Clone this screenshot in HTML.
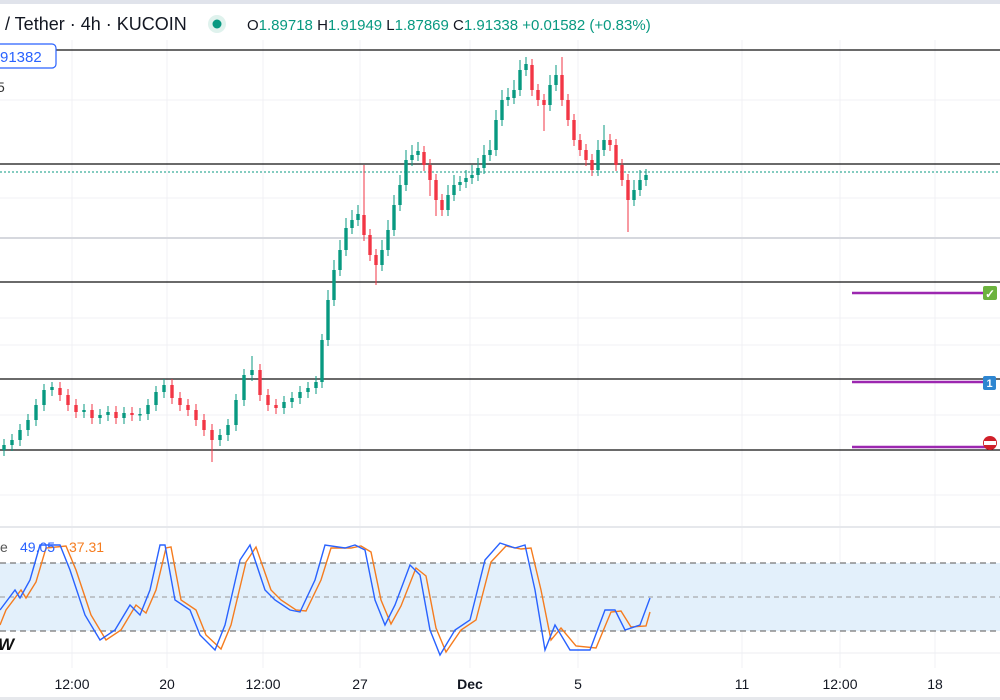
<!DOCTYPE html>
<html><head><meta charset="utf-8"><style>
html,body{margin:0;padding:0;background:#fff;width:1000px;height:700px;overflow:hidden;font-family:"Liberation Sans",sans-serif}
svg{position:absolute;left:0;top:0}
</style></head><body>
<svg width="1000" height="700" xmlns="http://www.w3.org/2000/svg">
<rect x="0" y="0" width="1000" height="700" fill="#fff"/>
<rect x="0" y="0" width="1000" height="4" fill="#e0e3eb"/>
<g stroke="#f0f1f4" stroke-width="1">
<line x1="72" y1="40" x2="72" y2="668"/><line x1="167" y1="40" x2="167" y2="668"/><line x1="263" y1="40" x2="263" y2="668"/><line x1="360" y1="40" x2="360" y2="668"/><line x1="470" y1="40" x2="470" y2="668"/><line x1="578" y1="40" x2="578" y2="668"/><line x1="742" y1="40" x2="742" y2="668"/><line x1="840" y1="40" x2="840" y2="668"/><line x1="935" y1="40" x2="935" y2="668"/>
<line x1="0" y1="100" x2="1000" y2="100"/><line x1="0" y1="198" x2="1000" y2="198"/><line x1="0" y1="318" x2="1000" y2="318"/><line x1="0" y1="345" x2="1000" y2="345"/><line x1="0" y1="415" x2="1000" y2="415"/><line x1="0" y1="495" x2="1000" y2="495"/>
</g>
<line x1="0" y1="238" x2="1000" y2="238" stroke="#d6d8de" stroke-width="2"/>
<g stroke="#111" stroke-width="1.3">
<line x1="0" y1="50" x2="1000" y2="50"/><line x1="0" y1="164" x2="1000" y2="164"/><line x1="0" y1="282" x2="1000" y2="282"/><line x1="0" y1="379" x2="1000" y2="379"/><line x1="0" y1="450" x2="1000" y2="450"/>
</g>
<line x1="0" y1="172" x2="1000" y2="172" stroke="#089981" stroke-width="1" stroke-dasharray="2,2"/>
<g stroke="#9c27b0" stroke-width="2.5">
<line x1="852" y1="293" x2="990" y2="293"/><line x1="852" y1="382" x2="990" y2="382"/><line x1="852" y1="447" x2="990" y2="447"/>
</g>
<rect x="983" y="286" width="14" height="14" rx="2" fill="#6cb33e"/><text x="990" y="298" font-size="12" fill="#fff" text-anchor="middle" font-weight="bold">✓</text>
<rect x="983" y="376" width="13" height="14" rx="2" fill="#2e86d1"/><text x="989.5" y="387" font-size="11" fill="#fff" text-anchor="middle" font-weight="bold">1</text>
<circle cx="990" cy="443" r="7" fill="#d0202a"/><rect x="984" y="441" width="12" height="4" fill="#fff"/>

<path fill="none" stroke="#089981" stroke-width="1" d="M4 439V456M12 434V451M20 424V446M28 414V436M36 399V426M44 384V411M52 382V396M84 404V418M100 409V424M108 406V421M124 407V424M140 408V421M148 399V420M156 386V411M164 379V398M220 429V446M228 419V441M236 394V431M244 369V406M252 356V381M284 396V414M292 392V408M300 386V404M308 382V398M316 376V394M322 334V388M328 290V346M334 260V306M340 240V276M346 218V256M352 210V234M358 205V226M382 240V271M388 220V256M394 195V236M400 175V211M406 150V191M412 145V166M418 142V161M448 185V216M454 175V201M460 176V191M466 170V188M472 165V184M478 158V181M484 145V174M490 140V161M496 110V156M502 90V126M508 88V106M514 80V104M520 60V96M526 57V76M550 75V111M556 65V91M598 140V176M604 125V156M634 180V206M640 170V196M646 169V186"/>
<path fill="none" stroke="#089981" stroke-width="3.4" d="M4 445V450M12 440V445M20 430V440M28 420V430M36 405V420M44 390V405M52 387V390M84 410V412M100 415V418M108 412V415M124 413V418M140 414V415.5M148 405V414M156 392V405M164 385V392M220 435V440M228 425V435M236 400V425M244 375V400M252 370V375M284 402V408M292 398V402M300 392V398M308 388V392M316 382V388M322 340V382M328 300V340M334 270V300M340 250V270M346 228V250M352 220V228M358 214V220M382 250V265M388 230V250M394 205V230M400 185V205M406 160V185M412 155V160M418 151V155M448 195V210M454 185V195M460 182V185M466 178V182M472 175V178M478 168V175M484 155V168M490 150V155M496 120V150M502 100V120M508 97V100M514 90V98M520 70V90M526 64V70M550 85V105M556 75V85M598 150V170M604 140V150M634 190V200M640 180V190M646 175V180"/>
<path fill="none" stroke="#f23645" stroke-width="1" d="M60 382V401M68 389V411M76 399V418M92 404V424M116 406V424M132 407V421M172 379V404M180 392V411M188 399V416M196 404V426M204 414V436M212 424V462M260 364V401M268 389V411M276 399V414M364 165V241M370 229V261M376 249V285M424 146V171M430 159V196M436 174V216M442 194V216M532 59V96M538 84V106M544 94V131M562 57V106M568 94V126M574 114V146M580 134V156M586 144V166M592 154V176M610 134V151M616 139V171M622 159V186M628 174V232"/>
<path fill="none" stroke="#f23645" stroke-width="3.4" d="M60 388V395M68 395V405M76 405V412M92 410V418M116 412V418M132 413V415M172 385V398M180 398V405M188 405V410M196 410V420M204 420V430M212 430V440M260 370V395M268 395V405M276 405V408M364 215V235M370 235V255M376 255V265M424 152V165M430 165V180M436 180V200M442 200V210M532 65V90M538 90V100M544 100V105M562 75V100M568 100V120M574 120V140M580 140V150M586 150V160M592 160V170M610 140V145M616 145V165M622 165V180M628 180V200"/>

<rect x="0" y="526" width="1000" height="2" fill="#e6e8ec"/>
<rect x="0" y="563" width="1000" height="68" fill="#e3f0fb"/>
<g stroke="#777" stroke-width="1.2" stroke-dasharray="6,4">
<line x1="0" y1="563" x2="1000" y2="563"/><line x1="0" y1="631" x2="1000" y2="631"/></g>
<line x1="0" y1="597" x2="1000" y2="597" stroke="#999" stroke-width="1" stroke-dasharray="5,4"/>
<line x1="0" y1="653" x2="1000" y2="653" stroke="#eceef2"/>
<polyline fill="none" stroke="#f57c1f" stroke-width="1.4" points="0,625 6,610 21,590 26,598 36,582 46,548 66,546 76,570 91,615 106,640 121,630 136,605 146,613 156,590 166,548 171,547 181,600 196,610 206,635 221,649 231,625 246,562 256,547 271,590 281,600 296,610 306,611 321,580 331,548 351,548 361,546 371,552 381,600 391,624 401,606 416,568 426,576 436,628 446,652 461,630 476,620 491,562 506,546 521,549 531,548 541,590 551,640 561,628 576,646 596,648 611,612 621,611 631,627 646,626 650,612"/>
<polyline fill="none" stroke="#2962ff" stroke-width="1.4" points="0,610 15,590 20,598 30,580 40,545 60,545 70,570 85,615 100,640 115,630 130,605 140,615 150,590 160,545 165,545 175,600 190,610 200,635 215,650 225,625 240,560 250,545 265,590 275,600 290,610 300,612 315,580 325,545 345,548 355,545 365,550 375,600 385,625 395,605 410,565 420,575 430,630 440,655 455,630 470,620 485,560 500,543 515,548 525,545 535,590 545,650 555,625 570,650 590,650 605,610 615,610 625,630 640,625 650,598"/>
<rect x="0" y="697" width="1000" height="3" fill="#e6e8ec"/>
<g font-size="14" fill="#131722" text-anchor="middle">
<text x="72" y="689">12:00</text><text x="167" y="689">20</text><text x="263" y="689">12:00</text><text x="360" y="689">27</text><text x="470" y="689" font-weight="bold">Dec</text><text x="578" y="689">5</text><text x="742" y="689">11</text><text x="840" y="689">12:00</text><text x="935" y="689">18</text>
</g>
<text x="0" y="552" font-size="14" fill="#555">e</text>
<text x="20" y="552" font-size="14" fill="#2962ff">49.05</text>
<text x="69" y="552" font-size="14" fill="#f57c1f">37.31</text>
<text x="-2" y="650" font-size="17" font-weight="bold" font-style="italic" fill="#111">W</text>
<rect x="-6" y="44" width="62" height="24" rx="4" fill="#fff" stroke="#2962ff" stroke-width="1.2"/>
<text x="0" y="62" font-size="15" fill="#2962ff">91382</text>
<text x="-3" y="92" font-size="14" fill="#333">5</text>
<text x="5" y="30" font-size="18" fill="#131722">/ Tether · 4h · KUCOIN</text>
<circle cx="217" cy="24" r="9" fill="#dff2ed"/><circle cx="217" cy="24" r="4.5" fill="#089981"/>
<text x="247" y="30" font-size="15" fill="#089981"><tspan fill="#131722">O</tspan>1.89718 <tspan fill="#131722">H</tspan>1.91949 <tspan fill="#131722">L</tspan>1.87869 <tspan fill="#131722">C</tspan>1.91338 +0.01582 (+0.83%)</text>
</svg>
</body></html>
